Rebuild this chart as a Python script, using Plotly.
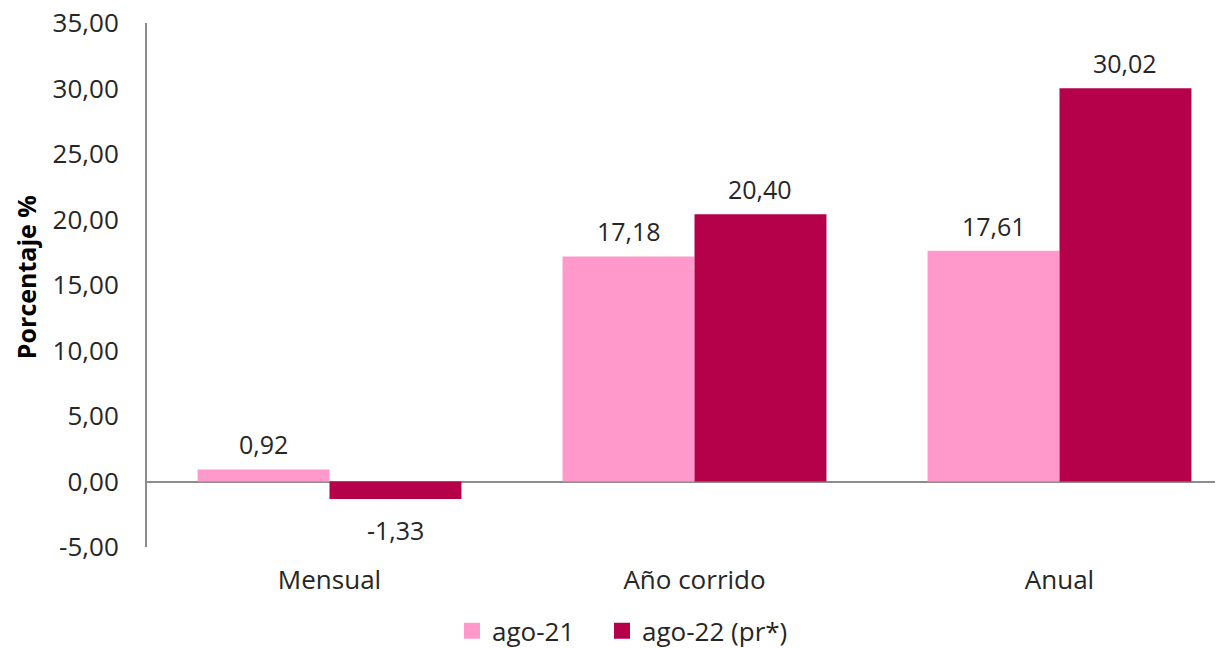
import plotly.graph_objects as go

categories = ["Mensual", "Año corrido", "Anual"]
series_names = ["ago-21", "ago-22 (pr*)"]
ago21 = [0.92, 17.18, 17.61]
ago22 = [-1.33, 20.40, 30.02]
colors = ["#FF99CC", "#B5004A"]
tick_values = [-5, 0, 5, 10, 15, 20, 25, 30, 35]
tick_labels = ["-5,00", "0,00", "5,00", "10,00", "15,00", "20,00", "25,00", "30,00", "35,00"]

font_family = "Open Sans, Noto Sans, sans-serif"
text_color = "#262626"

W, H = 1207, 640
L, T, B, R = 139, 15, 101, 0
pw = W - L - R
cat_w = 365
bargap = 0.277
bar_px = cat_w * (1 - bargap) / 2
legend_ids = ["legend", "legend2"]
legend_left_px = [444, 594]

fig = go.Figure()
annotations = []
for i, (name, vals, col) in enumerate(zip(series_names, [ago21, ago22], colors)):
    fig.add_trace(go.Bar(
        x=categories, y=vals, name=name, showlegend=False,
        marker=dict(color=col, line=dict(width=0)),
    ))
    # legend entry with a larger square swatch
    fig.add_trace(go.Scatter(
        x=[None], y=[None], name=name, mode="markers", legend=legend_ids[i],
        marker=dict(symbol="square", size=19, color=col),
    ))
    shift = (i - 0.5) * bar_px
    for c, v in zip(categories, vals):
        annotations.append(dict(
            x=c, y=v, xref="x", yref="y", xshift=shift,
            text=f"{v:.2f}".replace(".", ","), showarrow=False,
            yanchor="bottom" if v >= 0 else "top",
            yshift=6 if v >= 0 else -12,
            font=dict(size=25, color=text_color, family=font_family),
        ))

annotations.append(dict(
    text="<b>Porcentaje %</b>", xref="paper", yref="paper",
    x=(18 - L) / pw, y=0.515, xanchor="center", yanchor="middle",
    textangle=-90, showarrow=False,
    font=dict(size=25, color="#000000", family=font_family),
))

legend_style = dict(orientation="h", y=-0.16, yanchor="middle", xanchor="left",
                    font=dict(size=26, color=text_color), itemwidth=30,
                    bgcolor="rgba(0,0,0,0)")

fig.update_layout(
    width=W, height=H,
    margin=dict(l=L, r=R, t=T, b=B, autoexpand=False),
    paper_bgcolor="white", plot_bgcolor="white",
    barmode="group", bargap=bargap, bargroupgap=0,
    font=dict(family=font_family, size=26, color=text_color),
    annotations=annotations,
    legend=dict(x=(legend_left_px[0] - L) / pw, **legend_style),
    legend2=dict(x=(legend_left_px[1] - L) / pw, **legend_style),
    xaxis=dict(range=[-0.5, -0.5 + pw / cat_w], showline=False, showgrid=False,
               ticks="", tickfont=dict(size=26, color=text_color), ticklabelstandoff=15,
               zeroline=False),
    yaxis=dict(range=[-5, 35], tickvals=tick_values, ticktext=tick_labels, showgrid=False,
               showline=True, linecolor="#8C8C8C", linewidth=2, ticks="",
               zeroline=True, zerolinecolor="#8C8C8C", zerolinewidth=2,
               tickfont=dict(size=26, color=text_color), ticklabelstandoff=21,
               ticklabeloverflow="allow",
               automargin=False),
    showlegend=True,
)

fig.write_html("out.html")
